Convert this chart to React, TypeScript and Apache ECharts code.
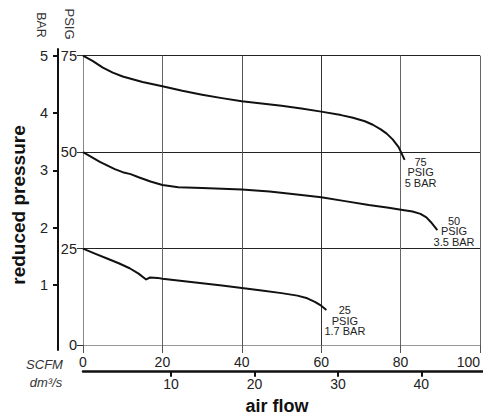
import React, { useEffect, useRef } from "react";
import * as echarts from "echarts";

// SCFM axis ticks and PSIG axis ticks
const scfmTicks = [0, 20, 40, 60, 80, 100];
const psigTicks = [0, 25, 50, 75];
const barTicks = [1, 2, 3, 4, 5];
const dm3Ticks = [10, 20, 30, 40];

// 75 PSIG (5 BAR) supply curve: flow in SCFM, reduced pressure in PSIG
const flow75 = [0, 2.5, 5, 7.5, 10, 15, 20, 25, 30, 35, 40, 45, 50, 55, 60, 65, 68, 71, 73, 75, 76.5, 78, 79.5, 80.1, 81];
const psig75 = [75, 73.6, 71.9, 70.6, 69.6, 68.2, 67.1, 65.9, 64.9, 64.0, 63.2, 62.6, 62.0, 61.3, 60.5, 59.6, 58.9, 58.0, 57.1, 55.9, 54.8, 53.3, 51.3, 50, 48];

// 50 PSIG (3.5 BAR) supply curve
const flow50 = [0, 4.25, 8, 10, 12, 14, 17, 20, 24, 30, 40, 47, 55, 60, 66, 72, 77, 80.5, 83, 85, 86.5, 87.6, 89.25];
const psig50 = [50, 47.5, 45.6, 44.8, 44.3, 43.5, 42.4, 41.5, 40.9, 40.7, 40.3, 39.8, 38.9, 38.3, 37.3, 36.3, 35.6, 35.0, 34.6, 34.0, 33.1, 31.9, 29.8];

// 25 PSIG (1.7 BAR) supply curve
const flow25 = [0, 3, 5.9, 9, 11.75, 14, 15.9, 16.9, 18.8, 20, 25, 30, 35, 40, 45, 50, 54, 56.5, 58.4, 60, 61.3];
const psig25 = [25, 23.7, 22.5, 21.2, 19.9, 18.5, 17.0, 17.5, 17.4, 17.2, 16.6, 16.0, 15.4, 14.8, 14.15, 13.45, 12.8, 12.1, 11.2, 10.2, 9.1];

const curveLabels = ["75\nPSIG\n5 BAR", "50\nPSIG\n3.5 BAR", "25\nPSIG\n1.7 BAR"];

const FONT = "'Liberation Sans', Arial, Helvetica, sans-serif";

const zip = (xs: number[], ys: number[]) => xs.map((x, i) => [x, ys[i]]);

export default function App() {
  const ref = useRef<HTMLDivElement>(null);

  useEffect(() => {
    if (!ref.current) return;
    const chart = echarts.init(ref.current, undefined, { renderer: "svg" });

    const mkSeries = (data: number[][], label: string, offset: number[]) => ({
      type: "line",
      xAxisIndex: 0,
      yAxisIndex: 0,
      data,
      symbol: "none",
      smooth: false,
      lineStyle: { color: "#111", width: 2, join: "round" },
      silent: true,
      endLabel: {
        show: true,
        formatter: () => label,
        align: "center",
        verticalAlign: "middle",
        distance: 0,
        offset,
        fontFamily: FONT,
        fontSize: 11,
        lineHeight: 10.5,
        color: "#222",
      },
    });

    chart.setOption({
      animation: false,
      backgroundColor: "#fff",
      textStyle: { fontFamily: FONT },
      grid: [
        { left: 83, top: 55.7, width: 400, height: 289.3 },
        { left: 58, top: 49, width: 10, height: 301 },
        { left: 83, top: 300, width: 400, height: 71.7 },
      ],
      xAxis: [
        {
          gridIndex: 0,
          type: "value",
          min: scfmTicks[0],
          max: scfmTicks[scfmTicks.length - 1],
          interval: 20,
          axisLine: { show: true, lineStyle: { color: "#999", width: 1 } },
          axisTick: { show: true, length: 8, lineStyle: { color: "#555", width: 1 } },
          axisLabel: {
            fontSize: 14,
            color: "#222",
            margin: 10,
            alignMaxLabel: "right",
            fontFamily: FONT,
          },
          splitLine: {
            show: true,
            lineStyle: { color: ["#888", "#666", "#555", "#333", "#666", "#666"], width: 1 },
          },
        },
        {
          gridIndex: 1,
          type: "value",
          show: false,
        },
        {
          gridIndex: 2,
          type: "value",
          min: -0.56,
          max: 47.39,
          position: "bottom",
          axisLine: { show: true, lineStyle: { color: "#111", width: 2.5 } },
          axisTick: {
            show: true,
            length: 5,
            customValues: dm3Ticks,
            lineStyle: { color: "#111", width: 2 },
          },
          axisLabel: {
            fontSize: 14,
            color: "#222",
            margin: 5,
            customValues: dm3Ticks,
            fontFamily: FONT,
          },
          splitLine: { show: false },
        },
      ],
      yAxis: [
        {
          gridIndex: 0,
          type: "value",
          min: psigTicks[0],
          max: psigTicks[psigTicks.length - 1],
          interval: 25,
          position: "left",
          axisLine: { show: true, lineStyle: { color: "#888", width: 1 } },
          axisTick: { show: true, length: 6, lineStyle: { color: "#333", width: 1 } },
          axisLabel: { fontSize: 14.5, color: "#222", margin: 6, fontFamily: FONT },
          splitLine: {
            show: true,
            lineStyle: { color: ["#999", "#222", "#222", "#222"], width: 1 },
          },
        },
        {
          gridIndex: 1,
          type: "value",
          min: -0.14,
          max: 5.12,
          position: "left",
          axisLine: { show: true, lineStyle: { color: "#111", width: 2 } },
          axisTick: {
            show: true,
            length: 5,
            customValues: barTicks,
            lineStyle: { color: "#111", width: 2 },
          },
          axisLabel: {
            fontSize: 14.5,
            color: "#222",
            margin: 10,
            customValues: barTicks,
            fontFamily: FONT,
          },
          splitLine: { show: false },
        },
        {
          gridIndex: 2,
          type: "value",
          show: false,
        },
      ],
      series: [
        mkSeries(zip(flow75, psig75), curveLabels[0], [16, 12.5]),
        mkSeries(zip(flow50, psig50), curveLabels[1], [16.7, 1.3]),
        mkSeries(zip(flow25, psig25), curveLabels[2], [18.5, 10.8]),
      ],
      graphic: [
        {
          type: "text",
          x: 41,
          y: 25,
          rotation: -Math.PI / 2,
          style: {
            text: "BAR",
            fontFamily: FONT,
            fontSize: 12.5,
            fill: "#333",
            align: "center",
            verticalAlign: "middle",
          },
        },
        {
          type: "text",
          x: 69,
          y: 24,
          rotation: -Math.PI / 2,
          style: {
            text: "PSIG",
            fontFamily: FONT,
            fontSize: 13,
            fill: "#333",
            align: "center",
            verticalAlign: "middle",
          },
        },
        {
          type: "text",
          x: 44.5,
          y: 364,
          style: {
            text: "SCFM",
            fontFamily: FONT,
            fontStyle: "italic",
            fontSize: 13,
            fill: "#333",
            align: "center",
            verticalAlign: "middle",
          },
        },
        {
          type: "text",
          x: 46,
          y: 382,
          style: {
            text: "dm³/s",
            fontFamily: FONT,
            fontStyle: "italic",
            fontSize: 13,
            fill: "#333",
            align: "center",
            verticalAlign: "middle",
          },
        },
        {
          type: "text",
          x: 18,
          y: 205,
          rotation: Math.PI / 2,
          style: {
            text: "reduced pressure",
            fontFamily: FONT,
            fontWeight: "bold",
            fontSize: 19,
            fill: "#111",
            align: "center",
            verticalAlign: "middle",
          },
        },
        {
          type: "text",
          x: 277,
          y: 406,
          style: {
            text: "air flow",
            fontFamily: FONT,
            fontWeight: "bold",
            fontSize: 18,
            fill: "#111",
            align: "center",
            verticalAlign: "middle",
          },
        },
      ],
    });

    return () => chart.dispose();
  }, []);

  return (
    <div
      ref={ref}
      style={{ position: "fixed", left: 0, top: 0, width: 483, height: 416, background: "#fff" }}
    />
  );
}
